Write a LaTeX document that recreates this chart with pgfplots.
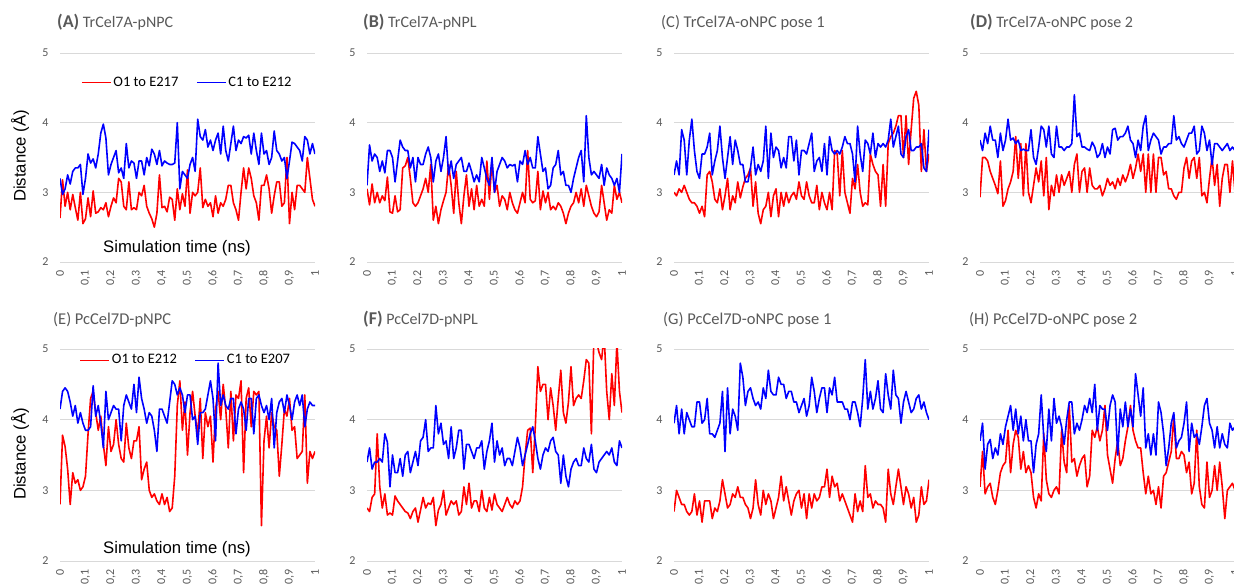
\documentclass[border=0pt]{standalone}
\usepackage{fontspec}
\setmainfont{Carlito}
\newfontfamily\arialfont{Liberation Sans}
\usepackage{pgfplots}
\usepackage{pgfplotstable}
\pgfplotsset{compat=1.18}
\definecolor{tickgray}{HTML}{595959}
\definecolor{gridgray}{HTML}{D9D9D9}
\definecolor{titlegray}{HTML}{595959}
\definecolor{xred}{HTML}{FF0000}
\definecolor{xblue}{HTML}{0000FF}

\pgfplotstableread{
t o c
0.00 2.63 3.20
0.01 3.18 2.97
0.02 2.80 3.05
0.03 3.00 3.25
0.04 2.75 3.12
0.05 2.97 3.30
0.06 2.78 3.35
0.07 2.60 3.35
0.08 3.00 3.40
0.09 2.55 2.97
0.10 2.62 3.20
0.11 2.92 3.55
0.12 2.65 3.42
0.13 3.02 3.48
0.14 2.70 3.35
0.15 2.72 3.55
0.16 2.78 3.85
0.17 2.75 3.98
0.18 2.85 3.78
0.19 2.65 3.25
0.20 2.80 3.40
0.21 2.92 3.50
0.22 2.85 3.60
0.23 3.20 3.28
0.24 3.15 3.35
0.25 2.80 3.20
0.26 2.75 3.70
0.27 3.15 3.35
0.28 2.75 3.45
0.29 2.78 3.42
0.30 2.75 3.20
0.31 3.00 3.45
0.32 2.95 3.45
0.33 3.10 3.25
0.34 2.80 3.50
0.35 2.70 3.38
0.36 2.62 3.62
0.37 2.50 3.55
0.38 2.70 3.40
0.39 3.25 3.60
0.40 2.78 3.38
0.41 2.80 3.45
0.42 2.72 3.42
0.43 2.93 3.40
0.44 2.90 3.40
0.45 2.60 3.42
0.46 3.05 4.00
0.47 2.75 3.05
0.48 2.98 3.30
0.49 2.80 3.25
0.50 3.32 3.20
0.51 2.70 3.40
0.52 3.00 3.50
0.53 2.95 3.30
0.54 3.00 4.05
0.55 3.35 3.80
0.56 2.78 3.75
0.57 2.90 3.90
0.58 2.80 3.65
0.59 2.85 3.75
0.60 2.65 3.60
0.61 2.95 3.75
0.62 2.70 3.85
0.63 2.85 3.55
0.64 2.80 3.95
0.65 2.90 3.60
0.66 3.10 3.45
0.67 3.10 3.70
0.68 2.85 3.95
0.69 2.75 3.60
0.70 2.60 3.75
0.71 3.00 3.70
0.72 3.35 3.80
0.73 3.05 3.78
0.74 3.35 3.82
0.75 3.20 3.55
0.76 2.95 3.85
0.77 2.85 3.60
0.78 2.60 3.40
0.79 3.10 3.85
0.80 3.10 3.55
0.81 3.25 3.60
0.82 3.05 3.40
0.83 2.70 3.50
0.84 2.95 3.88
0.85 3.15 3.60
0.86 3.15 3.55
0.87 2.80 3.45
0.88 2.85 3.50
0.89 3.50 3.20
0.90 2.55 3.45
0.91 3.00 3.72
0.92 2.75 3.70
0.93 3.10 3.65
0.94 3.10 3.60
0.95 3.05 3.45
0.96 3.00 3.80
0.97 3.50 3.75
0.98 3.20 3.55
0.99 2.90 3.70
1.00 2.80 3.55
}\tabA

\pgfplotstableread{
t o c
0.00 3.05 3.10
0.01 2.82 3.68
0.02 3.12 3.45
0.03 2.85 3.55
0.04 3.00 3.50
0.05 2.85 3.30
0.06 2.95 3.45
0.07 2.88 3.28
0.08 3.22 3.60
0.09 2.72 3.60
0.10 2.70 3.50
0.11 2.95 3.15
0.12 2.72 3.45
0.13 2.75 3.75
0.14 3.35 3.65
0.15 3.38 3.60
0.16 3.50 3.60
0.17 3.20 3.35
0.18 2.85 3.50
0.19 2.80 3.15
0.20 2.85 3.50
0.21 2.95 3.40
0.22 3.05 3.40
0.23 3.20 3.55
0.24 3.00 3.65
0.25 3.40 3.50
0.26 2.60 3.15
0.27 2.80 3.45
0.28 2.55 3.55
0.29 2.75 3.30
0.30 2.88 3.50
0.31 3.00 3.80
0.32 3.40 3.25
0.33 3.10 3.45
0.34 2.70 3.20
0.35 3.30 3.40
0.36 2.85 3.45
0.37 2.55 3.50
0.38 2.95 3.30
0.39 3.25 3.30
0.40 2.80 3.42
0.41 3.05 3.30
0.42 2.75 3.15
0.43 3.10 3.25
0.44 2.80 3.15
0.45 2.90 3.50
0.46 2.80 3.35
0.47 3.45 3.20
0.48 2.90 3.10
0.49 3.45 3.50
0.50 3.00 3.00
0.51 3.10 3.30
0.52 2.80 3.40
0.53 2.95 3.50
0.54 2.90 3.45
0.55 2.75 3.35
0.56 3.00 3.40
0.57 2.85 3.38
0.58 2.75 3.40
0.59 2.70 3.15
0.60 2.85 3.45
0.61 3.00 3.40
0.62 2.85 3.60
0.63 3.60 3.40
0.64 2.90 3.50
0.65 2.85 3.35
0.66 2.88 3.35
0.67 3.30 3.80
0.68 2.75 3.55
0.69 3.02 3.30
0.70 2.85 3.35
0.71 3.00 3.05
0.72 2.75 3.10
0.73 2.80 3.35
0.74 2.75 3.40
0.75 2.85 3.60
0.76 2.80 3.25
0.77 2.70 3.30
0.78 2.55 3.10
0.79 2.70 3.10
0.80 2.80 3.00
0.81 2.85 3.20
0.82 3.00 3.35
0.83 2.85 3.50
0.84 3.05 3.60
0.85 2.80 3.15
0.86 3.10 4.10
0.87 2.95 3.50
0.88 2.80 3.25
0.89 2.70 3.30
0.90 2.65 3.25
0.91 2.72 3.20
0.92 3.10 3.40
0.93 2.85 3.10
0.94 2.60 3.35
0.95 2.75 3.25
0.96 2.70 3.20
0.97 3.10 3.10
0.98 2.90 3.20
0.99 3.00 3.00
1.00 2.85 3.55
}\tabB

\pgfplotstableread{
t o c
0.00 3.00 3.25
0.01 2.95 3.45
0.02 3.05 3.25
0.03 3.00 3.90
0.04 3.10 3.75
0.05 3.00 3.25
0.06 2.90 3.75
0.07 2.85 4.05
0.08 2.85 3.60
0.09 2.80 3.30
0.10 2.70 3.20
0.11 2.80 3.55
0.12 2.65 3.55
0.13 3.25 3.65
0.14 3.30 3.85
0.15 3.15 3.25
0.16 2.90 3.45
0.17 2.85 3.60
0.18 3.05 3.95
0.19 2.75 3.50
0.20 2.95 3.20
0.21 3.20 3.50
0.22 2.75 3.80
0.23 2.95 3.40
0.24 2.85 3.75
0.25 3.15 3.60
0.26 2.92 3.40
0.27 3.08 3.40
0.28 3.20 3.15
0.29 3.25 3.15
0.30 3.35 3.35
0.31 2.80 3.65
0.32 3.15 3.25
0.33 2.70 3.40
0.34 2.55 3.30
0.35 2.75 3.45
0.36 2.80 3.95
0.37 3.00 3.20
0.38 2.65 3.85
0.39 2.95 3.50
0.40 3.05 3.65
0.41 2.65 3.60
0.42 3.00 3.35
0.43 2.80 3.50
0.44 3.00 3.35
0.45 2.85 3.80
0.46 2.95 3.80
0.47 3.00 3.45
0.48 2.90 3.75
0.49 3.15 3.25
0.50 2.95 3.60
0.51 2.90 3.60
0.52 3.15 3.55
0.53 2.95 3.70
0.54 2.85 3.85
0.55 2.85 3.30
0.56 3.10 3.45
0.57 2.75 3.50
0.58 3.00 3.30
0.59 2.85 3.70
0.60 2.75 3.25
0.61 3.00 3.80
0.62 2.75 3.60
0.63 3.60 3.55
0.64 3.55 3.60
0.65 2.95 3.55
0.66 3.60 3.65
0.67 3.00 3.80
0.68 2.85 3.70
0.69 2.70 3.70
0.70 3.20 3.55
0.71 3.05 3.15
0.72 3.40 3.95
0.73 3.00 3.55
0.74 2.80 3.30
0.75 2.85 3.75
0.76 2.82 3.70
0.77 3.55 3.55
0.78 3.40 3.85
0.79 3.30 3.50
0.80 3.25 3.70
0.81 2.80 3.65
0.82 3.40 3.70
0.83 2.80 3.65
0.84 3.70 3.75
0.85 3.80 4.05
0.86 3.85 3.65
0.87 3.95 3.80
0.88 4.10 3.95
0.89 4.10 3.55
0.90 3.50 3.50
0.91 4.10 3.80
0.92 3.40 3.90
0.93 3.90 3.60
0.94 4.35 3.60
0.95 4.45 3.65
0.96 4.25 3.65
0.97 3.30 3.70
0.98 3.90 3.35
0.99 3.30 3.30
1.00 3.55 3.90
}\tabC

\pgfplotstableread{
t o c
0.00 2.93 3.75
0.01 3.50 3.60
0.02 3.50 3.85
0.03 3.45 3.70
0.04 3.30 3.95
0.05 3.20 3.75
0.06 3.10 3.75
0.07 2.98 3.50
0.08 3.45 3.85
0.09 2.80 3.60
0.10 2.88 3.75
0.11 3.05 4.05
0.12 3.15 3.75
0.13 3.30 3.78
0.14 3.80 3.70
0.15 3.20 3.75
0.16 3.70 3.60
0.17 2.95 3.62
0.18 3.70 3.60
0.19 3.00 3.60
0.20 2.85 3.90
0.21 3.10 3.50
0.22 3.35 3.40
0.23 3.15 3.65
0.24 3.45 3.95
0.25 2.95 3.90
0.26 3.50 3.65
0.27 2.75 3.95
0.28 3.10 3.55
0.29 2.95 3.50
0.30 3.25 3.95
0.31 3.00 3.65
0.32 3.25 3.65
0.33 3.10 3.60
0.34 3.20 3.65
0.35 3.30 3.65
0.36 3.00 3.70
0.37 3.40 4.40
0.38 3.55 3.80
0.39 3.00 3.85
0.40 3.30 3.65
0.41 3.35 3.65
0.42 3.00 3.62
0.43 3.35 3.60
0.44 3.10 3.72
0.45 3.05 3.65
0.46 3.05 3.50
0.47 3.10 3.55
0.48 2.95 3.70
0.49 3.05 3.50
0.50 3.20 3.65
0.51 3.10 3.55
0.52 3.15 3.90
0.53 3.05 3.92
0.54 3.20 3.75
0.55 3.10 3.80
0.56 3.25 3.80
0.57 3.15 3.85
0.58 3.25 3.95
0.59 3.40 3.75
0.60 3.20 3.70
0.61 3.35 3.50
0.62 3.55 3.75
0.63 3.30 3.60
0.64 3.55 3.95
0.65 3.00 4.10
0.66 3.55 3.60
0.67 3.00 3.75
0.68 3.55 3.85
0.69 3.00 3.80
0.70 3.50 3.75
0.71 3.50 3.55
0.72 3.25 3.65
0.73 3.30 3.65
0.74 3.05 3.70
0.75 3.05 3.70
0.76 2.95 4.10
0.77 2.90 3.75
0.78 3.00 3.80
0.79 3.00 3.70
0.80 3.35 3.65
0.81 3.50 3.75
0.82 3.20 3.85
0.83 3.45 3.85
0.84 3.50 3.95
0.85 3.20 3.55
0.86 3.50 3.60
0.87 2.95 3.95
0.88 3.00 3.85
0.89 2.85 3.60
0.90 3.20 3.75
0.91 3.50 3.40
0.92 3.10 3.70
0.93 3.40 3.70
0.94 2.80 3.65
0.95 3.20 3.60
0.96 3.40 3.65
0.97 3.40 3.70
0.98 3.00 3.60
0.99 3.45 3.65
1.00 3.00 3.60
}\tabD

\pgfplotstableread{
t o c
0.00 2.80 4.15
0.01 3.78 4.40
0.02 3.62 4.45
0.03 3.30 4.40
0.04 2.80 4.25
0.05 3.25 4.05
0.06 3.10 4.20
0.07 3.15 3.95
0.08 3.00 4.10
0.09 3.05 3.95
0.10 3.20 3.85
0.11 3.80 3.85
0.12 4.30 3.90
0.13 4.40 4.48
0.14 4.10 4.05
0.15 3.85 4.20
0.16 4.05 3.95
0.17 3.65 3.60
0.18 3.35 4.40
0.19 3.90 4.00
0.20 3.55 4.10
0.21 3.65 4.20
0.22 4.00 4.15
0.23 3.65 4.15
0.24 3.45 3.70
0.25 3.40 4.20
0.26 3.95 4.35
0.27 3.60 4.25
0.28 3.45 4.15
0.29 3.70 4.50
0.30 3.70 4.10
0.31 3.90 4.60
0.32 3.15 4.30
0.33 3.30 4.15
0.34 3.40 3.95
0.35 3.00 4.10
0.36 2.90 4.05
0.37 2.95 3.85
0.38 2.85 3.55
0.39 2.80 4.15
0.40 2.95 4.15
0.41 2.80 4.05
0.42 2.90 3.95
0.43 2.70 4.25
0.44 2.75 4.55
0.45 3.20 4.50
0.46 4.20 4.35
0.47 4.55 4.45
0.48 3.85 4.35
0.49 4.25 4.10
0.50 3.50 4.35
0.51 4.10 4.35
0.52 4.40 4.00
0.53 4.05 4.05
0.54 3.80 3.65
0.55 4.30 4.10
0.56 3.45 4.10
0.57 4.10 4.15
0.58 3.90 4.35
0.59 4.05 4.55
0.60 3.40 4.30
0.61 4.15 3.70
0.62 4.40 4.80
0.63 4.00 4.20
0.64 4.50 4.35
0.65 4.15 4.20
0.66 3.60 4.15
0.67 4.40 4.30
0.68 3.70 4.30
0.69 4.35 3.80
0.70 4.30 4.15
0.71 4.55 4.25
0.72 3.25 4.15
0.73 4.30 3.85
0.74 4.45 4.30
0.75 3.90 4.30
0.76 4.40 3.80
0.77 4.35 4.30
0.78 4.40 4.35
0.79 2.50 4.20
0.80 3.70 4.10
0.81 4.05 4.20
0.82 3.60 4.00
0.83 4.10 4.30
0.84 3.90 3.60
0.85 3.85 4.10
0.86 3.20 4.25
0.87 3.65 4.30
0.88 4.15 4.10
0.89 4.05 4.35
0.90 4.30 4.20
0.91 3.85 4.00
0.92 3.90 4.25
0.93 3.45 4.35
0.94 3.50 4.20
0.95 3.55 4.35
0.96 4.35 3.90
0.97 3.10 4.15
0.98 3.55 4.25
0.99 3.45 4.20
1.00 3.55 4.20
}\tabE

\pgfplotstableread{
t o c
0.00 2.75 3.40
0.01 2.70 3.60
0.02 2.90 3.30
0.03 2.95 3.40
0.04 3.80 3.40
0.05 3.05 3.45
0.06 2.75 3.40
0.07 2.95 3.80
0.08 2.65 3.68
0.09 2.68 3.05
0.10 2.65 3.50
0.11 2.92 3.25
0.12 2.85 3.25
0.13 2.80 3.45
0.14 2.75 3.20
0.15 2.70 3.50
0.16 2.68 3.55
0.17 2.60 3.25
0.18 2.70 3.40
0.19 2.75 3.55
0.20 2.55 3.35
0.21 2.72 3.70
0.22 2.90 3.75
0.23 2.75 4.00
0.24 2.82 3.55
0.25 2.80 3.60
0.26 2.90 3.60
0.27 2.50 4.20
0.28 2.72 3.80
0.29 2.80 3.95
0.30 3.00 3.65
0.31 2.65 3.70
0.32 2.75 3.45
0.33 2.85 3.90
0.34 2.80 3.45
0.35 2.85 3.60
0.36 2.65 3.85
0.37 2.70 3.85
0.38 3.05 3.30
0.39 2.80 3.65
0.40 3.10 3.65
0.41 2.75 3.55
0.42 2.85 3.45
0.43 2.85 3.60
0.44 2.70 3.60
0.45 3.00 3.70
0.46 2.75 3.30
0.47 2.70 3.55
0.48 2.90 3.70
0.49 2.72 3.95
0.50 2.95 3.40
0.51 2.80 3.70
0.52 2.75 3.50
0.53 2.70 3.60
0.54 2.80 3.35
0.55 2.90 3.45
0.56 2.80 3.45
0.57 2.75 3.35
0.58 2.85 3.55
0.59 2.80 3.75
0.60 2.85 3.60
0.61 3.05 3.35
0.62 3.50 3.50
0.63 3.85 3.65
0.64 3.88 3.80
0.65 3.25 3.90
0.66 3.90 3.70
0.67 4.75 3.45
0.68 4.40 3.30
0.69 4.50 3.50
0.70 4.50 3.60
0.71 4.00 3.55
0.72 4.45 3.70
0.73 4.20 3.75
0.74 3.85 3.55
0.75 4.30 3.50
0.76 4.70 3.10
0.77 4.10 3.50
0.78 3.95 3.20
0.79 4.25 3.05
0.80 4.75 3.30
0.81 4.20 3.40
0.82 4.30 3.45
0.83 4.35 3.35
0.84 4.30 3.35
0.85 4.55 3.60
0.86 4.85 3.45
0.87 4.80 3.40
0.88 3.80 3.65
0.89 5.20 3.30
0.90 5.10 3.25
0.91 4.95 3.40
0.92 4.85 3.45
0.93 5.20 3.50
0.94 4.40 3.55
0.95 4.00 3.50
0.96 4.65 3.60
0.97 4.20 3.40
0.98 5.10 3.35
0.99 4.40 3.70
1.00 4.10 3.60
}\tabF

\pgfplotstableread{
t o c
0.00 2.70 3.95
0.01 3.00 4.20
0.02 2.90 3.80
0.03 2.80 4.15
0.04 2.80 3.80
0.05 2.70 4.10
0.06 2.65 4.00
0.07 2.70 3.90
0.08 2.95 3.90
0.09 2.65 4.25
0.10 2.85 4.25
0.11 2.55 3.95
0.12 2.85 4.00
0.13 2.85 4.30
0.14 2.85 3.80
0.15 2.60 3.80
0.16 2.75 3.75
0.17 2.70 3.85
0.18 2.85 3.95
0.19 3.15 4.40
0.20 2.95 3.55
0.21 2.75 4.45
0.22 2.80 3.80
0.23 2.95 4.15
0.24 2.90 4.05
0.25 3.05 3.85
0.26 2.90 4.80
0.27 2.90 4.60
0.28 2.80 4.20
0.29 2.75 4.40
0.30 2.60 4.45
0.31 2.75 4.30
0.32 3.15 4.20
0.33 2.80 4.25
0.34 2.65 4.15
0.35 3.00 4.45
0.36 2.80 4.30
0.37 2.95 4.70
0.38 2.85 4.40
0.39 2.60 4.35
0.40 2.75 4.35
0.41 2.90 4.60
0.42 3.20 4.50
0.43 2.85 4.50
0.44 3.05 4.30
0.45 2.85 4.40
0.46 2.65 4.40
0.47 2.85 4.25
0.48 2.95 4.25
0.49 3.00 4.10
0.50 2.75 4.20
0.51 2.95 4.30
0.52 2.60 4.05
0.53 2.95 4.20
0.54 2.75 4.60
0.55 2.95 4.40
0.56 2.85 4.10
0.57 2.90 4.30
0.58 3.05 4.45
0.59 3.05 4.45
0.60 3.30 4.10
0.61 2.90 4.45
0.62 3.20 4.35
0.63 3.05 4.60
0.64 3.10 4.25
0.65 2.85 4.25
0.66 2.95 4.25
0.67 2.85 4.15
0.68 2.75 4.15
0.69 2.65 4.00
0.70 2.55 4.25
0.71 2.95 4.25
0.72 2.70 4.10
0.73 2.85 3.90
0.74 2.70 4.30
0.75 3.35 4.85
0.76 2.90 4.15
0.77 2.95 4.40
0.78 2.75 4.15
0.79 2.85 4.30
0.80 2.80 4.55
0.81 2.80 4.15
0.82 2.75 4.10
0.83 2.55 4.65
0.84 3.30 4.35
0.85 2.95 4.15
0.86 2.80 4.70
0.87 3.05 4.35
0.88 3.30 4.30
0.89 3.05 3.95
0.90 2.80 4.25
0.91 3.05 4.40
0.92 2.95 4.25
0.93 2.75 4.10
0.94 2.90 4.15
0.95 2.55 4.30
0.96 2.65 4.35
0.97 3.05 4.15
0.98 2.80 4.25
0.99 2.85 4.10
1.00 3.15 4.00
}\tabG

\pgfplotstableread{
t o c
0.00 3.05 3.70
0.01 3.55 3.95
0.02 2.95 3.30
0.03 3.05 3.65
0.04 3.10 3.72
0.05 2.90 3.45
0.06 2.80 3.60
0.07 3.00 3.50
0.08 3.25 3.80
0.09 3.35 3.65
0.10 3.40 3.90
0.11 3.85 4.05
0.12 3.25 4.20
0.13 3.65 3.85
0.14 3.85 4.15
0.15 3.75 3.80
0.16 3.30 4.05
0.17 3.55 3.70
0.18 3.25 4.00
0.19 3.35 3.70
0.20 3.25 3.70
0.21 2.90 3.25
0.22 2.75 3.65
0.23 2.95 3.80
0.24 2.85 4.35
0.25 3.80 3.75
0.26 3.15 3.55
0.27 2.95 4.15
0.28 2.90 3.70
0.29 3.00 4.30
0.30 3.05 3.95
0.31 2.95 4.05
0.32 3.85 3.90
0.33 3.40 3.65
0.34 3.25 4.00
0.35 4.20 4.25
0.36 3.40 4.25
0.37 3.45 3.80
0.38 3.20 3.95
0.39 3.35 3.85
0.40 3.45 4.00
0.41 3.50 4.20
0.42 3.05 4.10
0.43 3.20 4.30
0.44 3.85 4.10
0.45 3.75 4.50
0.46 3.90 3.85
0.47 3.70 4.20
0.48 3.85 4.15
0.49 4.20 4.15
0.50 3.50 3.85
0.51 3.30 4.20
0.52 3.10 4.35
0.53 3.45 4.25
0.54 3.70 3.50
0.55 3.35 4.15
0.56 3.45 3.90
0.57 3.70 4.25
0.58 3.90 3.90
0.59 4.20 4.15
0.60 3.85 3.90
0.61 3.70 4.65
0.62 3.60 4.35
0.63 3.60 4.05
0.64 3.25 4.45
0.65 2.95 3.60
0.66 3.20 3.80
0.67 2.95 3.50
0.68 3.00 3.80
0.69 2.80 3.50
0.70 3.05 4.25
0.71 2.75 4.10
0.72 3.20 3.80
0.73 3.25 3.35
0.74 3.40 3.60
0.75 3.55 3.95
0.76 4.05 4.10
0.77 3.45 3.60
0.78 3.45 3.70
0.79 3.55 3.75
0.80 3.50 3.95
0.81 3.25 4.25
0.82 3.40 3.55
0.83 2.95 3.95
0.84 3.10 3.75
0.85 3.85 3.80
0.86 3.05 3.65
0.87 2.80 3.90
0.88 2.75 4.20
0.89 3.40 4.30
0.90 2.90 3.95
0.91 3.00 3.85
0.92 3.35 3.60
0.93 3.00 3.90
0.94 3.40 3.60
0.95 3.05 3.80
0.96 2.60 3.65
0.97 3.00 3.60
0.98 3.05 3.95
0.99 3.10 3.85
1.00 3.00 3.90
}\tabH

\pgfplotsset{
  panel/.style={
    scale only axis, width=255pt, height=209pt,
    anchor=south west,
    xmin=0, xmax=1, ymin=2, ymax=5,
    axis line style={draw=none},
    major tick length=0pt,
    ytick={2,3,4,5},
    xtick={0,0.1,0.2,0.3,0.4,0.5,0.6,0.7,0.8,0.9,1},
    ymajorgrids, grid style={gridgray, line width=0.9pt},
    /pgf/number format/assume math mode=true,
    /pgf/number format/use comma,
    /pgf/number format/fixed,
    /pgf/number format/precision=1,
    ticklabel style={font=\fontsize{12}{14}\selectfont, text=tickgray},
    xticklabel style={rotate=90, anchor=east},
    xticklabel shift=5pt,
    yticklabel shift=8pt,
  },
  panel2/.style={panel, height=212pt},
  leg/.style={
    legend style={draw=none, fill=none, font=\fontsize{14.5}{17}\selectfont,
      legend columns=2, anchor=center, inner sep=0pt,
      /tikz/every even column/.append style={column sep=16pt}},
    legend image code/.code={\draw[##1, line width=1pt] (0pt,0pt) -- (29pt,0pt);},
  },
  rline/.style={xred, line width=1.6pt, line join=round},
  bline/.style={xblue, line width=1.6pt, line join=round},
}

\begin{document}
\begin{tikzpicture}
\path[use as bounding box] (0pt,0pt) rectangle (1234pt,584pt);

% Row 1
\begin{axis}[panel, at={(60pt,322pt)}, leg, legend style={at={(0.5,0.861)}}]
\addplot[rline] table[x=t,y=o]{\tabA}; \addlegendentry{O1 to E217}
\addplot[bline] table[x=t,y=c]{\tabA}; \addlegendentry{C1 to E212}
\end{axis}
\begin{axis}[panel, at={(367pt,322pt)}]
\addplot[rline] table[x=t,y=o]{\tabB};
\addplot[bline] table[x=t,y=c]{\tabB};
\end{axis}
\begin{axis}[panel, at={(674pt,322pt)}]
\addplot[rline] table[x=t,y=o]{\tabC};
\addplot[bline] table[x=t,y=c]{\tabC};
\end{axis}
\begin{axis}[panel, at={(980pt,322pt)}]
\addplot[rline] table[x=t,y=o]{\tabD};
\addplot[bline] table[x=t,y=c]{\tabD};
\end{axis}

% Row 2
\begin{axis}[panel2, at={(60pt,23pt)}, leg, legend style={at={(0.494,0.948)}}]
\addplot[rline] table[x=t,y=o]{\tabE}; \addlegendentry{O1 to E212}
\addplot[bline] table[x=t,y=c]{\tabE}; \addlegendentry{C1 to E207}
\end{axis}
\begin{axis}[panel2, at={(367pt,23pt)}]
\addplot[rline] table[x=t,y=o]{\tabF};
\addplot[bline] table[x=t,y=c]{\tabF};
\end{axis}
\begin{axis}[panel2, at={(674pt,23pt)}]
\addplot[rline] table[x=t,y=o]{\tabG};
\addplot[bline] table[x=t,y=c]{\tabG};
\end{axis}
\begin{axis}[panel2, at={(980pt,23pt)}]
\addplot[rline] table[x=t,y=o]{\tabH};
\addplot[bline] table[x=t,y=c]{\tabH};
\end{axis}

% Titles
\tikzset{ttl/.style={anchor=base west, inner sep=0pt, text=titlegray, font=\fontsize{16}{19}\selectfont}}
\newcommand{\bl}[1]{{\fontsize{18}{20}\selectfont\bfseries #1}}
\node[ttl] at (57pt,556pt) {\bl{(A)} TrCel7A-pNPC};
\node[ttl] at (363pt,556pt) {\bl{(B)} TrCel7A-pNPL};
\node[ttl, font=\fontsize{16.5}{19}\selectfont] at (661pt,556pt) {(C) TrCel7A-oNPC pose 1};
\node[ttl] at (970pt,556pt) {\bl{(D)} TrCel7A-oNPC pose 2};
\node[ttl, font=\fontsize{16.5}{19}\selectfont] at (53pt,259pt) {(E) PcCel7D-pNPC};
\node[ttl] at (363pt,259pt) {\bl{(F)} PcCel7D-pNPL};
\node[ttl, font=\fontsize{16.5}{19}\selectfont] at (663pt,259pt) {(G) PcCel7D-oNPC pose 1};
\node[ttl, font=\fontsize{16.5}{19}\selectfont] at (969pt,259pt) {(H) PcCel7D-oNPC pose 2};

% Axis labels
\tikzset{lbl/.style={inner sep=0pt, text=black, font=\arialfont\fontsize{16.7}{20}\selectfont}}
\node[lbl, rotate=90] at (20pt,428pt) {Distance (Å)};
\node[lbl, rotate=90] at (20pt,130pt) {Distance (Å)};
\node[lbl] at (177pt,336pt) {Simulation time (ns)};
\node[lbl] at (177pt,35pt) {Simulation time (ns)};
\end{tikzpicture}
\end{document}
